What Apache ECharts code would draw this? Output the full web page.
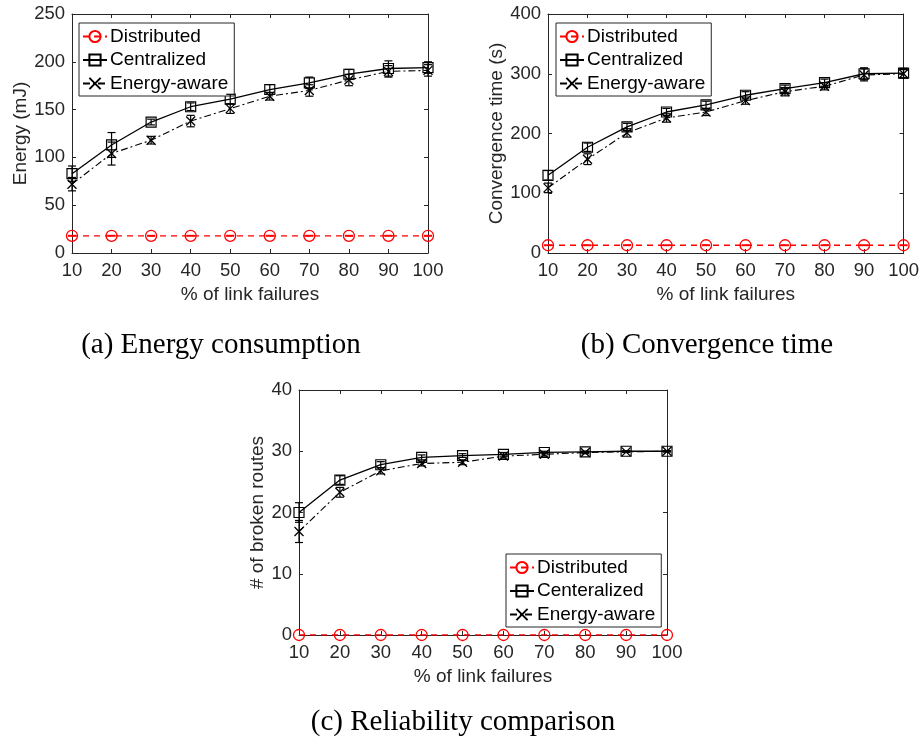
<!DOCTYPE html>
<html>
<head>
<meta charset="utf-8">
<script src="https://cdn.jsdelivr.net/npm/echarts@6/dist/echarts.min.js"></script>
<style>
  html, body { margin: 0; padding: 0; background: #fff; }
  #chart { width: 922px; height: 740px; }
</style>
</head>
<body>
<div id="chart"></div>
<script>
// Percentage of failed links (shared x values)
const failures = [10, 20, 30, 40, 50, 60, 70, 80, 90, 100];
const xTicks = { min: 10, max: 100, interval: 10 };

// (a) Energy consumption, mJ
const energyDistributed = [18, 18, 18, 18, 18, 18, 18, 18, 18, 18];
const energyCentralized = [83, 113, 137, 153, 161, 171, 178, 187, 193, 194];
const energyAware = [72, 104, 118, 138, 151, 164, 170, 181, 190, 191];
const energyDistributedErr = [0.4, 0.4, 0.4, 0.4, 0.4, 0.4, 0.4, 0.4, 0.4, 0.4];
const energyCentralizedErr = [8, 13, 3, 4, 5, 5, 6, 5, 8, 6];
const energyAwareErr = [7, 12, 4, 6, 5, 4, 6, 6, 6, 6];

// (b) Convergence time, s
const convDistributed = [13, 13, 13, 13, 13, 13, 13, 13, 13, 13];
const convCentralized = [130, 177, 211, 236, 248, 264, 275, 285, 300, 301];
const convAware = [109, 157, 201, 226, 236, 255, 270, 279, 298, 300];
const convDistributedErr = [0.6, 0.6, 0.6, 0.6, 0.6, 0.6, 0.6, 0.6, 0.6, 0.6];
const convCentralizedErr = [8, 7, 6, 6, 6, 6, 6, 6, 10, 8];
const convAwareErr = [8, 9, 7, 7, 6, 6, 7, 6, 10, 7];

// (c) Number of broken routes
const routesDistributed = [0, 0, 0, 0, 0, 0, 0, 0, 0, 0];
const routesCentralized = [20, 25.3, 27.8, 29, 29.3, 29.5, 29.8, 29.9, 30, 30];
const routesAware = [16.9, 23.3, 26.8, 28, 28.2, 29.2, 29.5, 29.8, 29.9, 30];
const routesCentralizedErr = [1.6, 0.7, 0.5, 0.4, 0.3, 0.3, 0.2, 0.1, 0.1, 0.1];
const routesAwareErr = [1.8, 0.8, 0.5, 0.4, 0.4, 0.3, 0.3, 0.2, 0.1, 0.1];

// Axis scales
const energyAxis = { min: 0, max: 250, interval: 50 };
const convAxis = { min: 0, max: 400, interval: 100 };
const routesAxis = { min: 0, max: 40, interval: 10 };

// Text
const xTitle = '% of link failures';
const yTitles = ['Energy (mJ)', 'Convergence time (s)', '# of broken routes'];
const captions = ['(a) Energy consumption', '(b) Convergence time', '(c) Reliability comparison'];
const namesAB = ['Distributed', 'Centralized', 'Energy-aware'];
const namesC = ['Distributed', 'Centeralized', 'Energy-aware'];

const AX = '#262626';
const SANS = 'Liberation Sans';
const RED = '#ff0000';
const CROSS = 'path://M0,0L10,10M10,0L0,10';

const grids = [
  { left: 72, top: 14, width: 356, height: 239 },
  { left: 548, top: 14, width: 357, height: 239 },
  { left: 299, top: 390, width: 368, height: 245 }
];

const xAxes = [];
const yAxes = [];
function addAxes(g, yScale, yName, yGap) {
  const base = { type: 'value', gridIndex: g, axisLine: { show: true, onZero: false, lineStyle: { color: AX, width: 1 } },
    axisTick: { show: true, inside: true, length: 4, lineStyle: { color: AX } }, splitLine: { show: false } };
  xAxes.push(Object.assign({}, base, xTicks, { position: 'bottom', name: xTitle, nameLocation: 'middle', nameGap: 32,
    nameTextStyle: { fontFamily: SANS, fontSize: 19, color: AX },
    axisLabel: { fontFamily: SANS, fontSize: 18.5, color: AX, margin: 8 } }));
  xAxes.push(Object.assign({}, base, xTicks, { position: 'top', axisLabel: { show: false } }));
  yAxes.push(Object.assign({}, base, yScale, { position: 'left', name: yName, nameLocation: 'middle', nameGap: yGap,
    nameTextStyle: { fontFamily: SANS, fontSize: 19, color: AX },
    axisLabel: { fontFamily: SANS, fontSize: 18.5, color: AX, margin: 7 } }));
  yAxes.push(Object.assign({}, base, yScale, { position: 'right', axisLabel: { show: false } }));
}
addAxes(0, energyAxis, yTitles[0], 40);
addAxes(1, convAxis, yTitles[1], 42);
addAxes(2, routesAxis, yTitles[2], 31);

function zipXY(vals) { return failures.map((x, i) => [x, vals[i]]); }

function lineSeries(name, g, vals, kind) {
  const s = { name: name, type: 'line', xAxisIndex: 2 * g, yAxisIndex: 2 * g, data: zipXY(vals), z: 3 };
  if (kind === 'dist') {
    Object.assign(s, { symbol: 'circle', symbolSize: 11, lineStyle: { color: RED, width: 1.3, type: [6, 5] },
      itemStyle: { color: 'rgba(0,0,0,0)', borderColor: RED, borderWidth: 1.3 } });
  } else if (kind === 'cent') {
    Object.assign(s, { symbol: 'rect', symbolSize: 10, lineStyle: { color: '#000', width: 1.3, type: 'solid' },
      itemStyle: { color: 'rgba(0,0,0,0)', borderColor: '#000', borderWidth: 1.2 } });
  } else {
    Object.assign(s, { symbol: CROSS, symbolSize: 9, lineStyle: { color: '#000', width: 1.1, type: [7, 3, 2, 3] },
      itemStyle: { color: 'rgba(0,0,0,0)', borderColor: '#000', borderWidth: 1.3 } });
  }
  s.emphasis = { disabled: true };
  return s;
}

function errorSeries(g, vals, errs, color) {
  return {
    type: 'custom', xAxisIndex: 2 * g, yAxisIndex: 2 * g, z: 4, silent: true,
    data: failures.map((x, i) => [x, vals[i] - errs[i], vals[i] + errs[i]]),
    encode: { x: 0, y: [1, 2] },
    renderItem: function (params, api) {
      const lo = api.coord([api.value(0), api.value(1)]);
      const hi = api.coord([api.value(0), api.value(2)]);
      const w = 4;
      const st = { stroke: color, lineWidth: 1.2 };
      return { type: 'group', children: [
        { type: 'line', shape: { x1: lo[0], y1: lo[1], x2: hi[0], y2: hi[1] }, style: st },
        { type: 'line', shape: { x1: lo[0] - w, y1: lo[1], x2: lo[0] + w, y2: lo[1] }, style: st },
        { type: 'line', shape: { x1: hi[0] - w, y1: hi[1], x2: hi[0] + w, y2: hi[1] }, style: st }
      ] };
    }
  };
}

const series = [
  lineSeries(namesAB[0], 0, energyDistributed, 'dist'),
  lineSeries(namesAB[1], 0, energyCentralized, 'cent'),
  lineSeries(namesAB[2], 0, energyAware, 'aware'),
  errorSeries(0, energyDistributed, energyDistributedErr, RED),
  errorSeries(0, energyCentralized, energyCentralizedErr, '#000'),
  errorSeries(0, energyAware, energyAwareErr, '#000'),

  lineSeries(namesAB[0], 1, convDistributed, 'dist'),
  lineSeries(namesAB[1], 1, convCentralized, 'cent'),
  lineSeries(namesAB[2], 1, convAware, 'aware'),
  errorSeries(1, convDistributed, convDistributedErr, RED),
  errorSeries(1, convCentralized, convCentralizedErr, '#000'),
  errorSeries(1, convAware, convAwareErr, '#000'),

  lineSeries(namesC[0], 2, routesDistributed, 'dist'),
  lineSeries(namesC[1], 2, routesCentralized, 'cent'),
  lineSeries(namesC[2], 2, routesAware, 'aware'),
  errorSeries(2, routesCentralized, routesCentralizedErr, '#000'),
  errorSeries(2, routesAware, routesAwareErr, '#000')
];

function legendAt(left, top, names) {
  return {
    orient: 'vertical', left: left, top: top, data: names, selectedMode: false,
    itemWidth: 24, itemHeight: 14, itemGap: 4.5,
    padding: [4, 6, 3, 3],
    backgroundColor: '#fff', borderColor: AX, borderWidth: 1,
    textStyle: { fontFamily: SANS, fontSize: 19, color: '#000', padding: [0, 0, 0, -2] }
  };
}

const option = {
  animation: false,
  backgroundColor: '#fff',
  grid: grids,
  xAxis: xAxes,
  yAxis: yAxes,
  legend: [
    legendAt(79, 23, namesAB),
    legendAt(556, 23, namesAB),
    legendAt(506, 554, namesC)
  ],
  series: series,
  graphic: [
    { type: 'text', x: 221, y: 345, style: { text: captions[0], font: '29px "Liberation Serif"', fill: '#000', textAlign: 'center', textVerticalAlign: 'middle' } },
    { type: 'text', x: 707, y: 345, style: { text: captions[1], font: '29px "Liberation Serif"', fill: '#000', textAlign: 'center', textVerticalAlign: 'middle' } },
    { type: 'text', x: 463, y: 722, style: { text: captions[2], font: '29px "Liberation Serif"', fill: '#000', textAlign: 'center', textVerticalAlign: 'middle' } }
  ]
};

echarts.init(document.getElementById('chart'), null, { renderer: 'canvas' }).setOption(option);
</script>
</body>
</html>
